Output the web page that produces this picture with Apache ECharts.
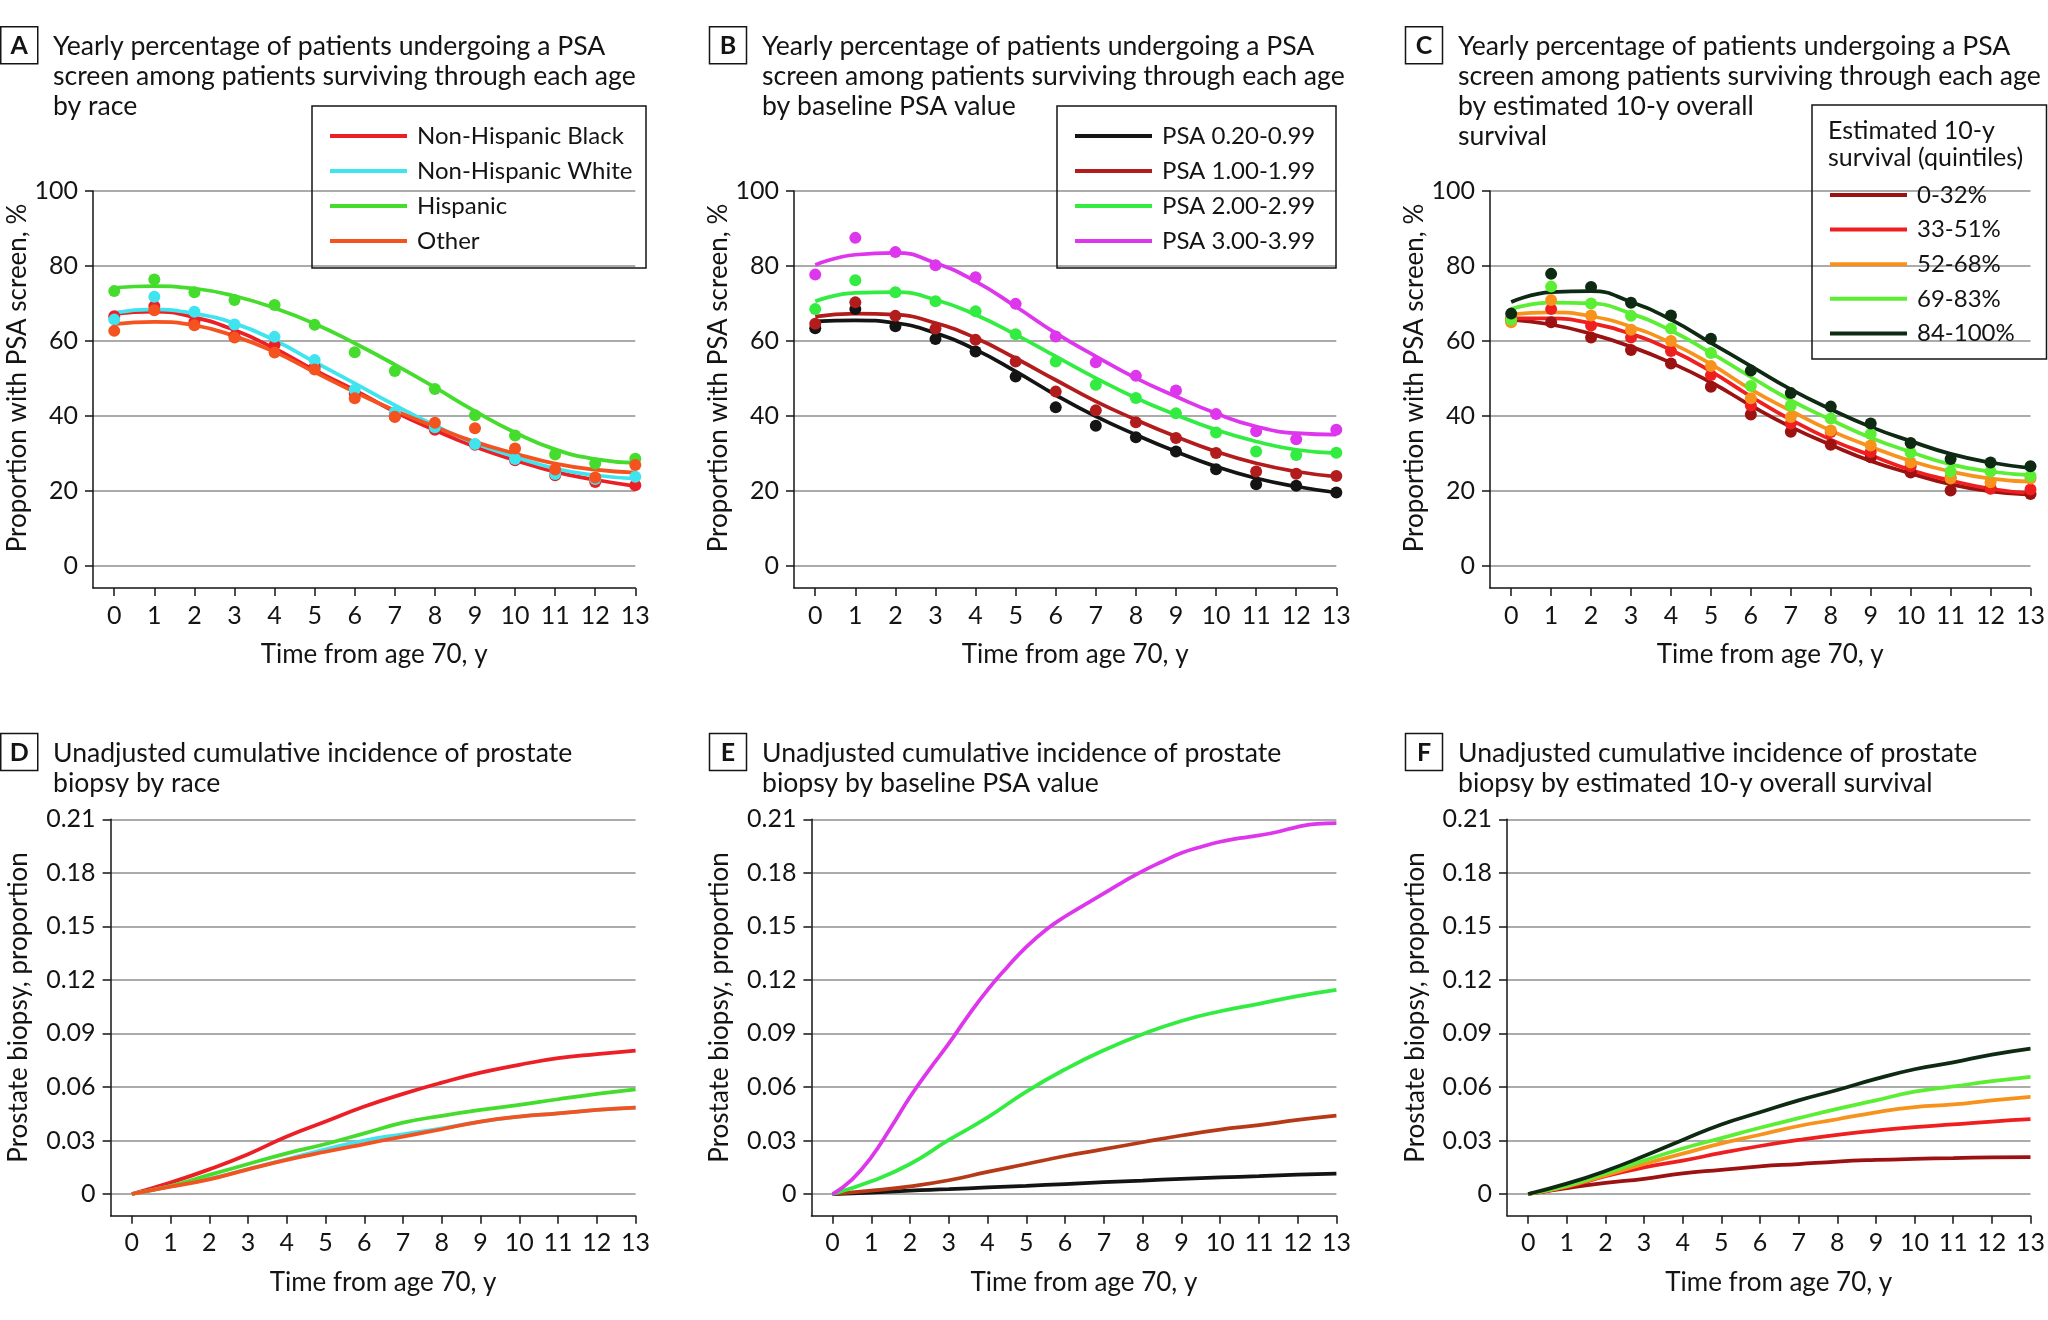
<!DOCTYPE html>
<html><head><meta charset="utf-8">
<script src="https://cdn.jsdelivr.net/npm/echarts@6/dist/echarts.min.js"></script>
<style>html,body{margin:0;padding:0;background:#fff}#c{width:2048px;height:1320px}</style>
</head><body><div id="c"></div>
<script>
// ---------- tick labels ----------
const xTicks = [0,1,2,3,4,5,6,7,8,9,10,11,12,13];
const yTicksTop = [0,20,40,60,80,100];
const yTicksBottom = [0,0.03,0.06,0.09,0.12,0.15,0.18,0.21];
const years = [0,1,2,3,4,5,6,7,8,9,10,11,12,13];
const halfYears = [0,0.5,1,1.5,2,2.5,3,3.5,4,4.5,5,5.5,6,6.5,7,7.5,8,8.5,9,9.5,10,10.5,11,11.5,12,12.5,13];

// ---------- categories ----------
const raceNames = ['Non-Hispanic Black','Non-Hispanic White','Hispanic','Other'];
const psaNames = ['PSA 0.20-0.99','PSA 1.00-1.99','PSA 2.00-2.99','PSA 3.00-3.99'];
const survNames = ['0-32%','33-51%','52-68%','69-83%','84-100%'];

// ---------- Panel A: PSA screening by race (observed points, fitted curve) ----------
const aBlackObs = [66.6,69.3,65.1,61.3,58.9,53.1,46.0,39.8,36.3,32.3,28.2,24.2,22.4,21.5];
const aBlackFit = [67.2,67.8,66.3,62.9,58.0,52.2,46.9,41.1,36.2,31.8,28.2,25.1,23.0,21.3];
const aWhiteObs = [65.7,71.8,67.8,64.4,61.1,54.9,47.0,41.0,37.0,32.5,28.5,24.5,23.2,23.8];
const aWhiteFit = [67.5,68.4,67.3,64.7,60.2,54.4,48.7,42.9,37.5,32.7,29.1,26.0,24.2,23.3];
const aHispObs  = [73.3,76.4,73.0,70.9,69.6,64.3,57.0,52.0,47.2,40.2,34.8,29.7,27.3,28.6];
const aHispFit  = [74.2,74.6,74.0,72.0,68.8,64.6,59.4,53.7,47.6,41.3,35.6,31.1,28.5,27.5];
const aOtherObs = [62.7,68.2,64.2,60.9,56.9,52.4,44.7,39.8,38.2,36.7,31.3,25.7,23.6,26.9];
const aOtherFit = [64.5,65.1,64.2,61.3,57.1,51.7,46.4,41.5,37.1,33.1,30.0,27.3,25.7,24.9];

// ---------- Panel B: PSA screening by baseline PSA ----------
const bPsa1Obs = [63.4,68.5,63.9,60.5,57.2,50.5,42.3,37.4,34.3,30.5,25.8,21.8,21.4,19.6];
const bPsa1Fit = [65.2,65.5,64.8,62.1,57.7,51.9,45.6,39.9,35.0,30.5,26.5,23.4,21.2,19.6];
const bPsa2Obs = [64.6,70.3,66.7,63.3,60.3,54.5,46.5,41.5,38.3,34.1,30.1,25.2,24.6,24.0];
const bPsa2Fit = [66.5,67.3,67.0,64.8,60.8,55.4,49.6,43.9,39.0,34.5,30.5,27.4,25.2,23.8];
const bPsa3Obs = [68.5,76.2,73.0,70.6,67.9,61.8,54.5,48.3,44.8,40.7,35.6,30.5,29.6,30.2];
const bPsa3Fit = [70.6,72.8,73.0,71.0,67.0,61.7,55.9,50.1,44.8,40.3,36.3,33.2,31.0,30.1];
const bPsa4Obs = [77.7,87.5,83.7,80.2,77.0,69.9,61.2,54.3,50.7,46.8,40.5,35.9,33.8,36.3];
const bPsa4Fit = [80.3,83.0,83.5,80.8,75.9,69.2,62.1,55.9,50.1,45.2,40.7,37.2,35.4,35.0];

// ---------- Panel C: PSA screening by estimated 10-y survival ----------
const cQ1Obs = [65.4,65.0,60.9,57.6,54.0,47.8,40.4,35.8,32.3,29.0,24.9,20.1,20.7,19.2];
const cQ1Fit = [65.7,64.4,61.9,58.5,54.2,49.0,42.8,37.1,32.3,28.0,24.7,21.8,19.9,19.0];
const cQ2Obs = [66.0,68.5,64.1,60.9,57.3,50.9,42.8,38.0,35.7,30.4,26.6,23.5,20.6,20.4];
const cQ2Fit = [66.0,66.0,64.7,61.9,57.6,51.9,45.2,39.0,33.7,29.5,25.6,22.8,20.6,19.4];
const cQ3Obs = [65.0,70.9,66.8,63.0,60.0,53.3,44.7,39.7,36.1,32.1,27.6,23.3,22.3,23.3];
const cQ3Fit = [67.1,67.6,66.6,63.8,59.5,53.8,47.1,41.4,36.1,31.8,28.0,25.2,23.3,22.5];
const cQ4Obs = [65.7,74.5,70.0,66.7,63.3,56.8,48.0,42.8,39.3,35.2,30.2,25.2,25.2,24.0];
const cQ4Fit = [68.5,70.2,70.0,67.3,62.8,56.8,50.4,44.2,39.0,34.2,30.4,27.1,25.2,24.2];
const cQ5Obs = [67.3,77.9,74.4,70.2,66.8,60.6,52.1,46.1,42.5,38.0,32.8,28.5,27.6,26.6];
const cQ5Fit = [70.4,73.0,73.3,70.4,65.7,59.5,53.3,47.1,41.8,37.1,33.3,29.9,27.6,26.1];

// ---------- Panel D: cumulative biopsy incidence by race ----------
const dBlack = [0,0.0064,0.0138,0.0223,0.0322,0.0406,0.0490,0.0561,0.0624,0.0680,0.0724,0.0761,0.0784,0.0804];
const dWhite = [0,0.0043,0.0085,0.0140,0.0195,0.0250,0.0300,0.0335,0.0368,0.0406,0.0434,0.0452,0.0471,0.0484];
const dHisp  = [0,0.0045,0.0107,0.0168,0.0228,0.0280,0.0340,0.0400,0.0438,0.0471,0.0499,0.0531,0.0561,0.0587];
const dOther = [0,0.0041,0.0082,0.0138,0.0191,0.0237,0.0280,0.0322,0.0363,0.0406,0.0434,0.0452,0.0471,0.0484];

// ---------- Panel E: cumulative biopsy incidence by baseline PSA ----------
const ePsa1 = [0,0.0008,0.0019,0.0027,0.0037,0.0046,0.0056,0.0066,0.0075,0.0085,0.0093,0.0100,0.0108,0.0114];
const ePsa2 = [0,0.0019,0.0043,0.0077,0.0124,0.0168,0.0213,0.0251,0.0290,0.0328,0.0361,0.0386,0.0415,0.0439];
const ePsa3 = [0,0.0071,0.0168,0.0303,0.0429,0.0574,0.0699,0.0806,0.0896,0.0970,0.1024,0.1066,0.1109,0.1144];
const ePsa4 = [0,0.0081,0.0207,0.0371,0.0545,0.0699,0.0844,0.1000,0.1144,0.1270,0.1385,0.1480,0.1555,0.1620,0.1685,0.1750,0.1810,0.1862,0.1911,0.1945,0.1974,0.1994,0.2010,0.2030,0.2058,0.2075,0.2079];

// ---------- Panel F: cumulative biopsy incidence by estimated 10-y survival ----------
const fQ1 = [0,0.0033,0.0062,0.0085,0.0116,0.0135,0.0155,0.0168,0.0182,0.0191,0.0197,0.0201,0.0205,0.0207];
const fQ2 = [0,0.0039,0.0100,0.0149,0.0187,0.0230,0.0269,0.0303,0.0332,0.0355,0.0375,0.0390,0.0406,0.0419];
const fQ3 = [0,0.0043,0.0104,0.0168,0.0226,0.0284,0.0332,0.0381,0.0419,0.0458,0.0487,0.0502,0.0525,0.0545];
const fQ4 = [0,0.0046,0.0116,0.0187,0.0255,0.0313,0.0371,0.0425,0.0477,0.0525,0.0574,0.0603,0.0632,0.0657];
const fQ5 = [0,0.0058,0.0129,0.0213,0.0303,0.0390,0.0458,0.0525,0.0583,0.0645,0.0699,0.0738,0.0781,0.0815];

// ---------- styling ----------
const FONT = 'Lato';
const INK = '#141414';
const raceColors = ['#ec1f26','#3fe4ef','#45dc2e','#f4521f'];
const psaColors = ['#141414','#b21c1c','#33ec42','#de36ec'];
const psaColorsE = ['#141414','#b63a18','#33ec42','#de36ec'];
const survColors = ['#9c1111','#f01f1f','#f7921c','#5cee34','#0e2a12'];

const chart = echarts.init(document.getElementById('c'));

const grids = [
  {left:93, top:191, width:542.3, height:397},
  {left:794, top:191, width:542.3, height:397},
  {left:1490, top:191, width:542.6, height:397},
  {left:110.6, top:819.3, width:525, height:396.4},
  {left:811.4, top:819.3, width:525, height:396.4},
  {left:1507, top:819.3, width:524.5, height:396.4}
];

function xAx(i) {
  const bottom = i >= 3;
  return {
    type:'value', gridIndex:i, min: bottom ? -0.547 : -0.53, max:13,
    name:'Time from age 70, y', nameLocation:'middle', nameGap:54,
    nameTextStyle:{fontFamily:FONT, fontSize:26, color:INK, padding:[0,0,0,20]},
    axisLine:{show:true, onZero:false, lineStyle:{color:INK, width:1.5}},
    axisTick:{show:true, length:8, customValues:xTicks, lineStyle:{color:INK, width:1.5}},
    axisLabel:{customValues:xTicks, fontFamily:FONT, fontSize:25, color:INK, margin:15},
    splitLine:{show:false}
  };
}
function yAx(i) {
  const bottom = i >= 3;
  const ticks = bottom ? yTicksBottom : yTicksTop;
  return {
    type:'value', gridIndex:i, min: bottom ? -0.01216 : -5.87, max: bottom ? 0.21 : 100,
    name: bottom ? 'Prostate biopsy, proportion' : 'Proportion with PSA screen, %',
    nameLocation:'middle', nameGap: bottom ? 78.5 : 62,
    nameTextStyle:{fontFamily:FONT, fontSize:26, color:INK, padding:[0,0,0, bottom ? 20 : 23]},
    axisLine:{show:true, onZero:false, lineStyle:{color:INK, width:1.5}},
    axisTick:{show:true, length:8, customValues:ticks, lineStyle:{color:INK, width:1.5}},
    axisLabel:{customValues:ticks, fontFamily:FONT, fontSize:25, color:INK, margin:15,
      formatter: v => bottom ? (v === 0 ? '0' : v.toFixed(2)) : String(Math.round(v))},
    splitLine:{show:true, lineStyle:{color:'#ababab', width:2}}
  };
}

function obs(name, vals, color, gi) {
  return {type:'scatter', name, xAxisIndex:gi, yAxisIndex:gi, silent:true,
    data: years.map((x,k)=>[x, vals[k]]), symbol:'circle', symbolSize:12,
    itemStyle:{color, opacity:1}, z:3};
}
function fit(name, vals, color, gi, xs) {
  xs = xs || years;
  return {type:'line', name, xAxisIndex:gi, yAxisIndex:gi, silent:true,
    data: xs.map((x,k)=>[x, vals[k]]), smooth:true, showSymbol:false, symbol:'none',
    lineStyle:{color, width:3.75}, itemStyle:{color}, z:2};
}

const series = [
  // A
  fit(raceNames[0], aBlackFit, raceColors[0], 0), fit(raceNames[1], aWhiteFit, raceColors[1], 0),
  fit(raceNames[2], aHispFit, raceColors[2], 0), fit(raceNames[3], aOtherFit, raceColors[3], 0),
  obs(raceNames[0], aBlackObs, raceColors[0], 0), obs(raceNames[1], aWhiteObs, raceColors[1], 0),
  obs(raceNames[2], aHispObs, raceColors[2], 0), obs(raceNames[3], aOtherObs, raceColors[3], 0),
  // B
  fit(psaNames[0], bPsa1Fit, psaColors[0], 1), fit(psaNames[1], bPsa2Fit, psaColors[1], 1),
  fit(psaNames[2], bPsa3Fit, psaColors[2], 1), fit(psaNames[3], bPsa4Fit, psaColors[3], 1),
  obs(psaNames[0], bPsa1Obs, psaColors[0], 1), obs(psaNames[1], bPsa2Obs, psaColors[1], 1),
  obs(psaNames[2], bPsa3Obs, psaColors[2], 1), obs(psaNames[3], bPsa4Obs, psaColors[3], 1),
  // C
  fit(survNames[0], cQ1Fit, survColors[0], 2), fit(survNames[1], cQ2Fit, survColors[1], 2),
  fit(survNames[2], cQ3Fit, survColors[2], 2), fit(survNames[3], cQ4Fit, survColors[3], 2),
  fit(survNames[4], cQ5Fit, survColors[4], 2),
  obs(survNames[0], cQ1Obs, survColors[0], 2), obs(survNames[1], cQ2Obs, survColors[1], 2),
  obs(survNames[2], cQ3Obs, survColors[2], 2), obs(survNames[3], cQ4Obs, survColors[3], 2),
  obs(survNames[4], cQ5Obs, survColors[4], 2),
  // D
  fit(raceNames[0], dBlack, raceColors[0], 3), fit(raceNames[1], dWhite, raceColors[1], 3),
  fit(raceNames[2], dHisp, raceColors[2], 3), fit(raceNames[3], dOther, raceColors[3], 3),
  // E
  fit(psaNames[0], ePsa1, psaColorsE[0], 4), fit(psaNames[1], ePsa2, psaColorsE[1], 4),
  fit(psaNames[2], ePsa3, psaColorsE[2], 4), fit(psaNames[3], ePsa4, psaColorsE[3], 4, halfYears),
  // F
  fit(survNames[0], fQ1, survColors[0], 5), fit(survNames[1], fQ2, survColors[1], 5),
  fit(survNames[2], fQ3, survColors[2], 5), fit(survNames[3], fQ4, survColors[3], 5),
  fit(survNames[4], fQ5, survColors[4], 5)
];

const titleStyle = {fontFamily:FONT, fontSize:26.6, fontWeight:'normal', color:INK, lineHeight:30};
const screenHead = 'Yearly percentage of patients undergoing a PSA\nscreen among patients surviving through each age\n';
const biopsyHead = 'Unadjusted cumulative incidence of prostate\n';
const titles = [
  {text: screenHead + 'by race', left:53, top:31.7},
  {text: screenHead + 'by baseline PSA value', left:762, top:31.7},
  {text: screenHead + 'by estimated 10-y overall\nsurvival', left:1458, top:31.7},
  {text: biopsyHead + 'biopsy by race', left:53, top:738.3},
  {text: biopsyHead + 'biopsy by baseline PSA value', left:762, top:738.3},
  {text: biopsyHead + 'biopsy by estimated 10-y overall survival', left:1458, top:738.3}
].map(t => Object.assign({padding:0, textStyle:titleStyle}, t));

function legendAt(names, left, top) {
  return {data: names.map(n => ({name:n, icon:'rect'})), orient:'vertical', left, top,
    itemWidth:77, itemHeight:4, itemGap:11, padding:0, selectedMode:false,
    textStyle:{fontFamily:FONT, fontSize:24, color:INK, padding:[0,0,0,5]}};
}
const legends = [
  legendAt(raceNames, 330, 124),
  legendAt(psaNames, 1075, 124),
  Object.assign(legendAt(survNames, 1830, 183), {itemGap:10.6})
];

function letterBox(ch, x, y) {
  return [
    {type:'rect', shape:{x:x, y:y, width:37, height:37}, style:{fill:'#fff', stroke:INK, lineWidth:1.5}, z:10},
    {type:'text', x:x+18.5, y:y+19, style:{text:ch, font:'bold 25px ' + FONT, fill:INK, align:'center', verticalAlign:'middle'}, z:11}
  ];
}
const graphics = [].concat(
  letterBox('A', 0.75, 26.7), letterBox('B', 709.5, 26.7), letterBox('C', 1405.5, 26.7),
  letterBox('D', 0.75, 733.5), letterBox('E', 709.5, 733.5), letterBox('F', 1405.5, 733.5),
  [
    {type:'rect', shape:{x:312, y:106, width:334, height:162}, style:{fill:'none', stroke:INK, lineWidth:1.5}, z:10},
    {type:'rect', shape:{x:1057, y:106, width:279, height:162}, style:{fill:'none', stroke:INK, lineWidth:1.5}, z:10},
    {type:'rect', shape:{x:1812, y:105, width:234.5, height:254}, style:{fill:'none', stroke:INK, lineWidth:1.5}, z:10},
    {type:'text', x:1828, y:117.5, style:{text:'Estimated 10-y\nsurvival (quintiles)', font:'25px ' + FONT, lineHeight:27, fill:INK, verticalAlign:'top'}, z:11}
  ]
);

chart.setOption({
  backgroundColor:'#ffffff',
  animation:false,
  textStyle:{fontFamily:FONT},
  title: titles,
  grid: grids,
  xAxis: [0,1,2,3,4,5].map(xAx),
  yAxis: [0,1,2,3,4,5].map(yAx),
  legend: legends,
  graphic: graphics,
  series
});
</script>
</body></html>
